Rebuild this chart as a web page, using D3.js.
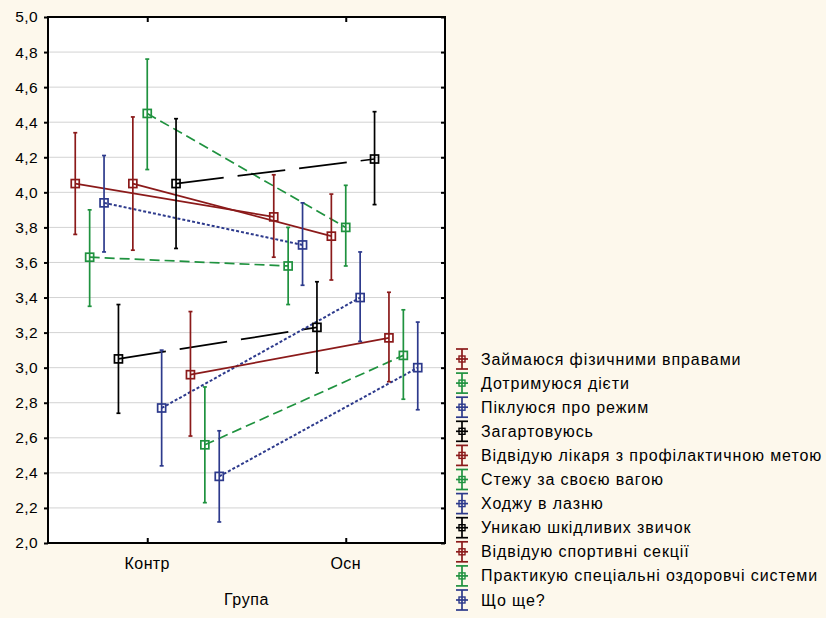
<!DOCTYPE html>
<html><head><meta charset="utf-8">
<script src="https://cdn.jsdelivr.net/npm/d3@7"></script>
<style>body{margin:0;background:#fdf8ec;}svg{display:block;font-family:"Liberation Sans",Arial,sans-serif;}</style>
</head><body><svg id="c" width="826" height="618"></svg>
<script>
const groups = ["Контр", "Осн"];
const seriesNames = ["Займаюся фізичними вправами","Дотримуюся дієти","Піклуюся про режим","Загартовуюсь","Відвідую лікаря з профілактичною метою","Стежу за своєю вагою","Ходжу в лазню","Уникаю шкідливих звичок","Відвідую спортивні секції","Практикую спеціальні оздоровчі системи","Що ще?"];
const seriesColors = ["#8b1a1a","#1f923f","#2d3a8c","#000000","#8b1a1a","#1f923f","#2d3a8c","#000000","#8b1a1a","#1f923f","#2d3a8c"];
const seriesDash = ["none","10,5","3,2","48,14","none","10,5","3,2","48,14","none","10,5","3,2"];
// means [Контр, Осн]
const meanKontr = [4.05,3.63,3.94,3.05,4.05,4.45,2.77,4.05,2.96,2.56,2.38];
const meanOsn   = [3.86,3.58,3.70,3.23,3.75,3.80,3.40,4.19,3.17,3.07,3.00];
const lowKontr  = [3.76,3.35,3.66,2.74,3.67,4.13,2.44,3.68,2.61,2.23,2.12];
const highKontr = [4.34,3.90,4.21,3.36,4.43,4.76,3.10,4.42,3.32,2.89,2.64];
const lowOsn    = [3.63,3.36,3.47,2.97,3.50,3.58,3.15,3.93,2.92,2.82,2.76];
const highOsn   = [4.10,3.80,3.94,3.49,3.99,4.04,3.66,4.46,3.43,3.33,3.26];
const yTicks = [2.0,2.2,2.4,2.6,2.8,3.0,3.2,3.4,3.6,3.8,4.0,4.2,4.4,4.6,4.8,5.0];

const svg = d3.select("#c");
const L=48, R=445, T=17, B=543;
const x = d3.scalePoint().domain(groups).range([L,R]).padding(0.5);
const y = d3.scaleLinear().domain([2,5]).range([B,T]);
const off = d3.scaleLinear().domain([0,10]).range([-72,72]);

svg.append("rect").attr("x",L).attr("y",T).attr("width",R-L).attr("height",B-T).attr("fill","#fff");
// grid
svg.append("g").selectAll("line").data(yTicks.slice(1,-1)).join("line")
  .attr("x1",L).attr("x2",R).attr("y1",d=>y(d)).attr("y2",d=>y(d))
  .attr("stroke","#d3d3d3").attr("stroke-width",1);

const fmt = d=>d3.format(".1f")(d).replace(".",",");
const yAxisL = svg.append("g").attr("transform",`translate(${L},0)`)
  .call(d3.axisLeft(y).tickValues(yTicks).tickFormat(fmt).tickSize(4).tickPadding(6));
const yAxisR = svg.append("g").attr("transform",`translate(${R},0)`)
  .call(d3.axisLeft(y).tickValues(yTicks).tickFormat("").tickSize(4));
const xAxisB = svg.append("g").attr("transform",`translate(0,${B})`)
  .call(d3.axisTop(x).tickSize(5).tickFormat(""));
const xAxisT = svg.append("g").attr("transform",`translate(0,${T})`)
  .call(d3.axisBottom(x).tickSize(5).tickFormat(""));
[yAxisL,yAxisR,xAxisB,xAxisT].forEach(g=>{g.select(".domain").remove();g.selectAll("line").attr("stroke","#000").attr("stroke-width",2);});
yAxisL.selectAll("text").attr("font-size",15.5).attr("fill","#000").attr("font-family","Liberation Sans, Arial, sans-serif").attr("letter-spacing",0.4);
svg.append("rect").attr("x",L).attr("y",T).attr("width",R-L).attr("height",B-T).attr("fill","none").attr("stroke","#000").attr("stroke-width",2);

// x labels
svg.append("g").selectAll("text").data(groups).join("text")
  .attr("x",d=>x(d)).attr("y",569).attr("text-anchor","middle").attr("font-size",16).attr("letter-spacing",0.4).text(d=>d);
svg.append("text").attr("x",(L+R)/2).attr("y",605).attr("text-anchor","middle").attr("font-size",16).attr("letter-spacing",0.6).text("Група");

const data = seriesNames.map((n,i)=>({i, pts:[
  {g:groups[0], m:meanKontr[i], lo:lowKontr[i], hi:highKontr[i]},
  {g:groups[1], m:meanOsn[i], lo:lowOsn[i], hi:highOsn[i]}]}));
const px = (p,i)=>x(p.g)+off(i);

const plot = svg.append("g");
// lines
data.forEach(s=>{
  plot.append("line")
    .attr("x1",px(s.pts[0],s.i)).attr("y1",y(s.pts[0].m))
    .attr("x2",px(s.pts[1],s.i)).attr("y2",y(s.pts[1].m))
    .attr("stroke",seriesColors[s.i]).attr("stroke-width",seriesDash[s.i]==="3,2"?2:1.7)
    .attr("stroke-dasharray",seriesDash[s.i]==="none"?null:seriesDash[s.i]);
});
// error bars + markers
data.forEach(s=>{
  const c = seriesColors[s.i];
  s.pts.forEach(p=>{
    const xx = px(p,s.i);
    plot.append("line").attr("x1",xx).attr("x2",xx).attr("y1",y(p.lo)).attr("y2",y(p.hi)).attr("stroke",c).attr("stroke-width",1.7);
    [p.lo,p.hi].forEach(v=>plot.append("line").attr("x1",xx-2).attr("x2",xx+2).attr("y1",y(v)).attr("y2",y(v)).attr("stroke",c).attr("stroke-width",1.7));
  });
});
data.forEach(s=>{
  const c = seriesColors[s.i];
  s.pts.forEach(p=>{
    const xx = px(p,s.i);
    plot.append("rect").attr("x",xx-4).attr("y",y(p.m)-4).attr("width",8).attr("height",8)
      .attr("fill","none").attr("stroke",c).attr("stroke-width",1.7);
  });
});

// legend
const lg = svg.append("g");
seriesNames.forEach((n,i)=>{
  const cy = 359 + i*24.1, cx = 462, c = seriesColors[i];
  const g = lg.append("g");
  g.append("line").attr("x1",cx).attr("x2",cx).attr("y1",cy-10).attr("y2",cy+10).attr("stroke",c).attr("stroke-width",1.7);
  g.append("line").attr("x1",cx-6).attr("x2",cx+6).attr("y1",cy-10).attr("y2",cy-10).attr("stroke",c).attr("stroke-width",1.7);
  g.append("line").attr("x1",cx-6).attr("x2",cx+6).attr("y1",cy+10).attr("y2",cy+10).attr("stroke",c).attr("stroke-width",1.7);
  g.append("line").attr("x1",cx-6).attr("x2",cx+6).attr("y1",cy).attr("y2",cy).attr("stroke",c).attr("stroke-width",1.7);
  g.append("rect").attr("x",cx-3).attr("y",cy-3).attr("width",6).attr("height",6).attr("fill","none").attr("stroke",c).attr("stroke-width",1.4);
  g.append("text").attr("x",481).attr("y",cy+5.5).attr("font-size",16).attr("letter-spacing",0.9).attr("fill","#000").text(n);
});
</script></body></html>
